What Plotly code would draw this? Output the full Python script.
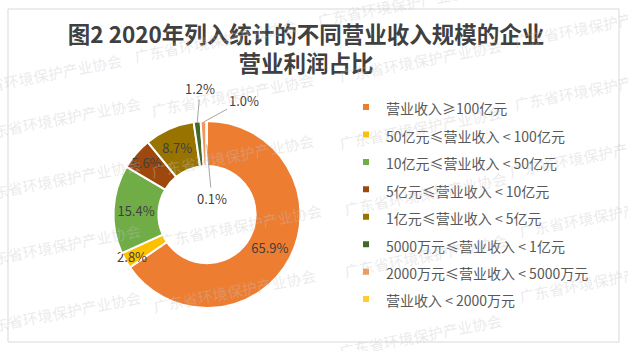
import math
import plotly.graph_objects as go

# ---- data ----
categories = [
    "营业收入≥100亿元",
    "50亿元≤营业收入 < 100亿元",
    "10亿元≤营业收入 < 50亿元",
    "5亿元≤营业收入 < 10亿元",
    "1亿元≤营业收入 < 5亿元",
    "5000万元≤营业收入 < 1亿元",
    "2000万元≤营业收入 < 5000万元",
    "营业收入 < 2000万元",
]
shares = [65.9, 2.8, 15.4, 5.6, 8.7, 1.2, 1.0, 0.1]
colors = ["#ED7D31", "#FFC000", "#70AD47", "#9E480E", "#997300", "#43682B", "#F1975A", "#FFCD33"]
title_text = "图2 2020年列入统计的不同营业收入规模的企业<br>营业利润占比"
watermark = "广东省环境保护产业协会"

W, H = 628, 351
FONT = "Noto Sans CJK SC, Noto Sans, sans-serif"

# pie geometry (pixels)
cx, cy, R = 207, 214.5, 93.5

def px2paper(x, y):
    return x / W, 1 - y / H

small = [i for i, v in enumerate(shares) if v < 2]
textpos = ["none" if i in small else "inside" for i in range(len(shares))]

fig = go.Figure()
fig.add_trace(go.Pie(
    values=shares,
    labels=categories,
    sort=False,
    direction="clockwise",
    rotation=0,
    hole=0.52,
    marker=dict(colors=colors, line=dict(color="white", width=2)),
    texttemplate="%{value:.1f}%",
    textposition=textpos,
    insidetextorientation="horizontal",
    textfont=dict(size=13, color="#404040", family=FONT),
    showlegend=False,
    hoverinfo="label+value",
    domain=dict(x=[(cx - R) / W, (cx + R) / W], y=[1 - (cy + R) / H, 1 - (cy - R) / H]),
))

# legend entries (small square markers)
for name, c in zip(categories, colors):
    fig.add_trace(go.Scatter(
        x=[None], y=[None], mode="markers",
        marker=dict(symbol="square", size=6, color=c),
        name=f'<span style="font-size:14px">{name}</span>',
        showlegend=True, hoverinfo="skip",
    ))

annotations = []
# outside labels for small slices, positioned from slice angles
total = sum(shares)
cum = 0
mid_angles = []
for v in shares:
    mid_angles.append((cum + v / 2) / total * 2 * math.pi)
    cum += v

label_offsets = {5: (3, -34, R - 1), 6: (40, -22, R - 1), 7: (5, 54, 70)}
for i, (ax, ay, rr) in label_offsets.items():
    a = mid_angles[i]
    hx = cx + rr * math.sin(a)
    hy = cy - rr * math.cos(a)
    px, py = px2paper(hx, hy)
    annotations.append(dict(
        x=px, y=py, xref="paper", yref="paper",
        text=f"{shares[i]:.1f}%", showarrow=True, arrowhead=0, arrowwidth=1,
        arrowcolor="#a6a6a6", ax=ax, ay=ay, standoff=0,
        font=dict(size=13, color="#404040", family=FONT),
    ))

# watermark
wm_centers = [
    (40, 75), (59, 118), (59, 180), (59, 245), (59, 312),
    (215, 40), (233, 94), (233, 155), (240, 225), (235, 290),
    (398, 5), (420, 60), (420, 128), (425, 193), (425, 255), (420, 335),
    (595, 25), (595, 88), (590, 155), (600, 215), (600, 280),
]
for (x, y) in wm_centers:
    px, py = px2paper(x, y)
    annotations.append(dict(
        x=px, y=py, xref="paper", yref="paper", text=watermark, showarrow=False,
        textangle=-11, font=dict(size=15, color="rgba(195,195,195,0.35)", family=FONT),
        xanchor="center", yanchor="middle",
    ))

fig.update_layout(
    width=W, height=H,
    margin=dict(l=0, r=0, t=0, b=0),
    paper_bgcolor="white", plot_bgcolor="white",
    title=dict(text=title_text, x=306 / W, xanchor="center", y=1 - 43 / H, yanchor="middle",
               font=dict(size=22.5, color="#404040", family=FONT, weight="bold")),
    legend=dict(x=346 / W, xanchor="left", y=1 - 88.3 / H, yanchor="top",
                font=dict(size=18.8, color="#595959", family=FONT),
                bgcolor="rgba(0,0,0,0)", itemsizing="trace"),
    xaxis=dict(visible=False), yaxis=dict(visible=False),
    annotations=annotations,
    shapes=[dict(type="rect", xref="paper", yref="paper",
                 x0=8 / W, x1=619 / W, y0=1 - 342 / H, y1=1 - 9 / H,
                 line=dict(color="#d9d9d9", width=1), layer="below")],
    uniformtext=dict(minsize=13, mode="show"),
)

fig.write_html("out.html")
